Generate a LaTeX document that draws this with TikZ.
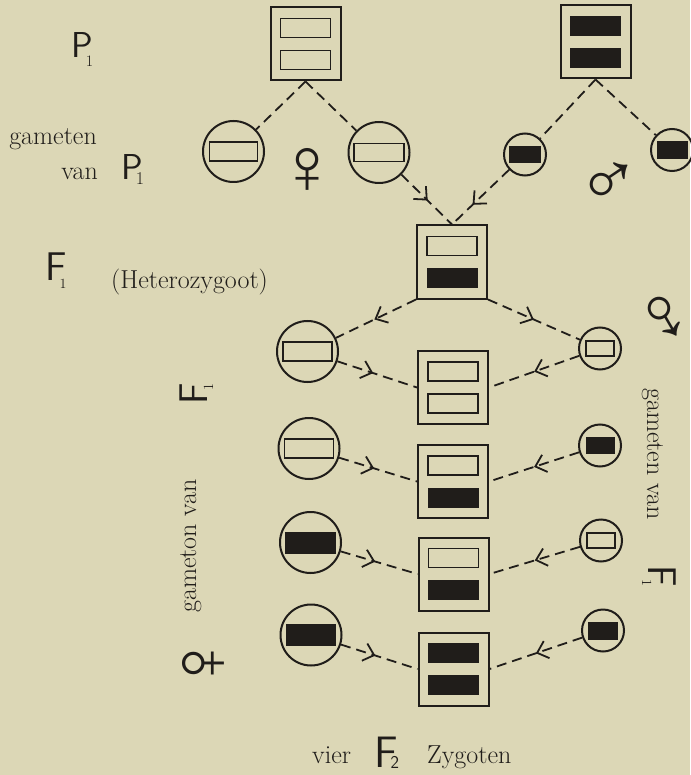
\documentclass[tikz,border=0pt]{standalone}
\usepackage{fontspec}
\newfontfamily\symfont{Liberation Sans}
\usetikzlibrary{arrows.meta,decorations.markings}
\definecolor{paper}{RGB}{220,215,182}
\definecolor{ink}{RGB}{32,29,26}
\newcommand\serif{\fontsize{26}{30}\selectfont\rmfamily}
\newcommand\subnum[2]{\rmfamily\fontsize{#1}{#1}\selectfont #2}
\tikzset{
  zyg/.style={draw=ink, line width=2pt, rectangle, minimum width=70pt, minimum height=73pt, inner sep=0pt},
  gam/.style={draw=ink, line width=2pt, circle, minimum size=61pt, inner sep=0pt},
  sgam/.style={draw=ink, line width=2pt, circle, minimum size=42pt, inner sep=0pt},
  wbar/.style={draw=ink, line width=1.7pt},
  bbar/.style={draw=ink, fill=ink, line width=1pt},
  dashline/.style={draw=ink, line width=1.8pt, dash pattern=on 10pt off 6pt},
  midarrow/.style={postaction={decorate, decoration={markings,
      mark=at position #1 with {\pgfsetdash{}{0pt}\arrow[ink]{Straight Barb[length=10pt,width=18pt,line width=1.8pt]}}}}},
  lab/.style={inner sep=0pt, text=ink},
  sym/.style={inner sep=0pt, text=ink, font=\symfont\fontsize{80}{80}\selectfont},
}
% zygote: name, x, y, top bar style, bottom bar style
\newcommand\zygote[5]{%
  \node[zyg] (#1) at (#2,#3) {};
  \draw[#4] (#2-25,#3-25.5) rectangle (#2+25,#3-6.5);
  \draw[#5] (#2-25,#3+6.5) rectangle (#2+25,#3+25.5);
}
% gamete: name, x, y, circle style, bar style, half width, half height
\newcommand\gamete[7]{%
  \node[#4] (#1) at (#2,#3) {};
  \draw[#5] (#2-#6,#3-#7) rectangle (#2+#6,#3+#7);
}
\begin{document}
\begin{tikzpicture}[x=1pt,y=-1pt]
\fill[paper] (0,0) rectangle (690,775);
\useasboundingbox (0,0) rectangle (690,775);

% parents
\zygote{Pa}{305.5}{44}{wbar}{wbar}
\zygote{Pb}{595.5}{42}{bbar}{bbar}

% gametes of P1
\gamete{gP1}{233.5}{151.5}{gam}{wbar}{24}{9.5}
\gamete{gP2}{379}{152.5}{gam}{wbar}{25}{9}
\gamete{gP3}{525}{154.5}{sgam}{bbar}{15.5}{8}
\gamete{gP4}{672}{150}{sgam}{bbar}{15}{8.5}

% F1
\zygote{F}{452}{262}{wbar}{bbar}

% F2 zygotes
\zygote{Z1}{453}{387.5}{wbar}{wbar}
\zygote{Z2}{453}{481.5}{wbar}{bbar}
\zygote{Z3}{453.5}{574}{wbar}{bbar}
\zygote{Z4}{453.5}{669}{bbar}{bbar}

% gametes of F1 (female, left)
\gamete{gL1}{307.5}{351.5}{gam}{wbar}{24.5}{9.5}
\gamete{gL2}{309}{448.5}{gam}{wbar}{24.5}{9.5}
\gamete{gL3}{310.5}{542.5}{gam}{bbar}{25}{10.5}
\gamete{gL4}{311}{635}{gam}{bbar}{24.5}{10.5}

% gametes of F1 (male, right)
\gamete{gR1}{600}{348.5}{sgam}{wbar}{14}{7.5}
\gamete{gR2}{600}{445.5}{sgam}{bbar}{14}{8}
\gamete{gR3}{601}{540.5}{sgam}{wbar}{14}{7.5}
\gamete{gR4}{603}{630.5}{sgam}{bbar}{14.5}{8.5}

% connectors
\draw[dashline] (Pa.south) -- (gP1);
\draw[dashline] (Pa.south) -- (gP2);
\draw[dashline] (Pb.south) -- (gP3);
\draw[dashline] (Pb.south) -- (gP4);
\draw[dashline, midarrow=0.52] (gP2) -- (F.north);
\draw[dashline, midarrow=0.64] (gP3) -- (F.north);
\draw[dashline, midarrow=0.52] (F.south west) -- (gL1);
\draw[dashline, midarrow=0.5] (F.south east) -- (gR1);
\draw[dashline, midarrow=0.45] (gL1) -- (Z1.west);
\draw[dashline, midarrow=0.45] (gL2) -- (Z2.west);
\draw[dashline, midarrow=0.45] (gL3) -- (Z3.west);
\draw[dashline, midarrow=0.45] (gL4) -- (Z4.west);
\draw[dashline, midarrow=0.5] (gR1) -- (Z1.east);
\draw[dashline, midarrow=0.5] (gR2) -- (Z2.east);
\draw[dashline, midarrow=0.5] (gR3) -- (Z3.east);
\draw[dashline, midarrow=0.5] (gR4) -- (Z4.east);

% labels
\node[lab, anchor=base west] (tP1) at (71,58) {\fontsize{36}{36}\sffamily\selectfont P\kern-7pt\raisebox{-9pt}{\subnum{16}{1}}};
\node[lab, anchor=base east] (tgam) at (97,145) {\serif gameten};
\node[lab, anchor=base east] (tvan) at (98,180) {\serif van};
\node[lab, anchor=base west] (tP1b) at (121,180) {\fontsize{36}{36}\sffamily\selectfont P\kern-7pt\raisebox{-5pt}{\subnum{18}{1}}};
\node[lab, anchor=base west] (tF1) at (45,280) {\fontsize{40}{40}\sffamily\selectfont F\kern-7pt\raisebox{-8pt}{\subnum{14}{1}}};
\node[lab, anchor=base west] (thet) at (111,288) {\serif (Heterozygoot)};
\node[lab, anchor=base west] (tvier) at (312,763) {\serif vier};
\node[lab, anchor=base west] (tF2) at (374,767) {\fontsize{44}{44}\sffamily\selectfont F\kern-7pt\raisebox{-1pt}{\sffamily\fontsize{18}{18}\selectfont 2}};
\node[lab, anchor=base west] (tzyg) at (427,763) {\serif Zygoten};

\node[lab, rotate=90, anchor=base west] (tgl) at (196,613) {\serif gameton van};
\node[lab, rotate=90, anchor=base west] (tFl) at (207,405) {\fontsize{40}{40}\sffamily\selectfont F\kern-7pt\raisebox{-6pt}{\subnum{14}{1}}};
\node[lab, rotate=-90, anchor=base west] (tgr) at (647,388) {\serif gameten van};
\node[lab, rotate=-90, anchor=base west] (tFr) at (648,565) {\fontsize{40}{40}\sffamily\selectfont F\kern-7pt\raisebox{-6pt}{\subnum{14}{1}}};

% sex symbols
\node[sym] (fem1) at (307,170.5) {♀};
\node[sym, rotate=-11] (mal1) at (607,184) {♂};
\node[sym, rotate=-105] (mal2) at (659,314) {♂};
\node[sym, rotate=90] (fem2) at (204.5,663) {♀};
\end{tikzpicture}
\end{document}
